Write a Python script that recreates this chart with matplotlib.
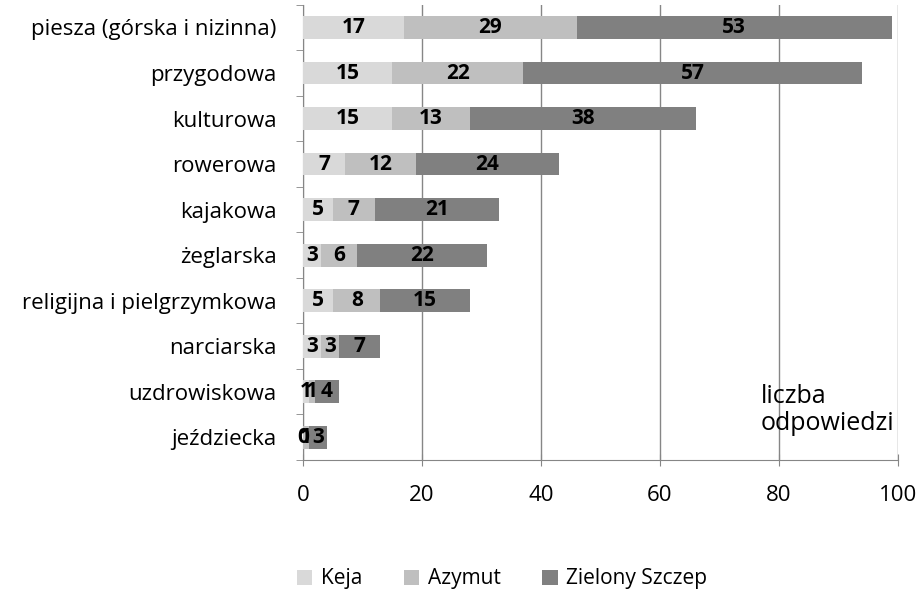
import matplotlib
matplotlib.use("Agg")
import matplotlib.pyplot as plt
import numpy as np

categories = ["piesza (górska i nizinna)", "przygodowa", "kulturowa", "rowerowa",
              "kajakowa", "żeglarska", "religijna i pielgrzymkowa", "narciarska",
              "uzdrowiskowa", "jeździecka"]
keja = [17, 15, 15, 7, 5, 3, 5, 3, 1, 0]
azymut = [29, 22, 13, 12, 7, 6, 8, 3, 1, 1]
zielony = [53, 57, 38, 24, 21, 22, 15, 7, 4, 3]
series_names = ["Keja", "Azymut", "Zielony Szczep"]
colors = ["#d9d9d9", "#bfbfbf", "#808080"]

plt.rcParams['font.family'] = ['Open Sans', 'DejaVu Sans']

fig = plt.figure(figsize=(9.16, 5.89), dpi=100)
ax = fig.add_axes([0.331, 0.219, 0.649, 0.773])

y = np.arange(len(categories))
left = np.zeros(len(categories))
for vals, name, c in zip([keja, azymut, zielony], series_names, colors):
    bars = ax.barh(y, vals, left=left, height=0.5, color=c, label=name, zorder=3)
    ax.bar_label(bars, labels=[str(v) for v in vals], label_type='center',
                 fontsize=15, fontweight='bold', color='black', zorder=4)
    left += np.array(vals)

ax.set_xlim(0, 100)
ax.set_ylim(len(categories) - 0.5, -0.5)
ax.set_xticks([0, 20, 40, 60, 80, 100])
ax.set_yticks(y)
ax.set_yticklabels(categories, fontsize=16)
ax.set_yticks(np.arange(len(categories) + 1) - 0.5, minor=True)
ax.tick_params(axis='y', which='major', length=0, pad=19)
ax.tick_params(axis='y', which='minor', length=5, color='#868686', direction='out')
ax.tick_params(axis='x', which='major', length=8, color='#868686', direction='inout',
               labelsize=16, pad=14)
ax.xaxis.grid(True, color='#868686', linewidth=1, zorder=0)
for s in ['top', 'right']:
    ax.spines[s].set_visible(False)
ax.spines['left'].set_color('#868686')
ax.spines['bottom'].set_color('#868686')

ax.text(77.0, 8.4, "liczba\nodpowiedzi", fontsize=18, ha='left', va='center',
        linespacing=1.15)

fig.legend(loc='center', bbox_to_anchor=(0.548, 0.017), ncol=3, frameon=False,
           fontsize=15, handlelength=0.75, handleheight=0.75, columnspacing=2.0,
           handletextpad=0.4)

fig.savefig("out.png", dpi=100)
